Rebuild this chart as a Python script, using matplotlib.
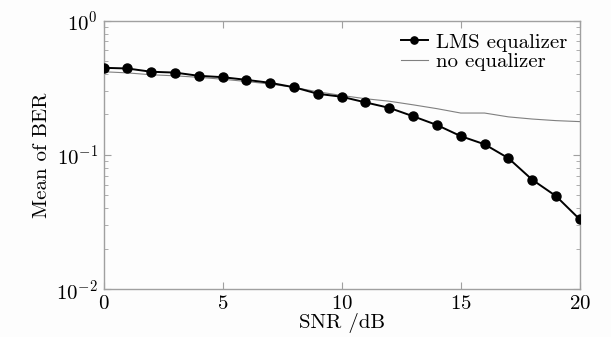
import matplotlib
matplotlib.use("Agg")
import matplotlib.pyplot as plt
from matplotlib.ticker import LogLocator, NullFormatter

plt.rcParams['font.family'] = 'serif'
plt.rcParams['font.serif'] = ['cmr10']
plt.rcParams['mathtext.fontset'] = 'cm'
plt.rcParams['axes.unicode_minus'] = False
plt.rcParams['axes.formatter.use_mathtext'] = True

snr = list(range(0, 21))
ber_lms = [0.445, 0.44, 0.416, 0.41, 0.388, 0.379, 0.362, 0.344, 0.319, 0.285,
           0.271, 0.246, 0.224, 0.194, 0.167, 0.138, 0.120, 0.0946, 0.0654, 0.0494, 0.0331]
ber_none = [0.416, 0.408, 0.395, 0.388, 0.378, 0.366, 0.352, 0.337, 0.318, 0.295,
            0.277, 0.262, 0.251, 0.236, 0.221, 0.205, 0.205, 0.192, 0.185, 0.180, 0.177]

fig = plt.figure(figsize=(6.11, 3.37), dpi=100, facecolor='#fdfdfd')
ax = fig.add_axes([0.1694, 0.1415, 0.7796, 0.7975])
ax.set_facecolor('#fdfdfd')

ax.plot(snr, ber_lms, color='black', lw=1.4, marker='o', ms=6.5, label='LMS equalizer', zorder=3)
ax.plot(snr, ber_none, color='#808080', lw=0.8, label='no equalizer', zorder=2)

ax.set_yscale('log')
ax.set_ylim(1e-2, 1e0)
ax.set_xlim(0, 20)
ax.set_xticks([0, 5, 10, 15, 20])
ax.yaxis.set_major_locator(LogLocator(base=10, numticks=5))
ax.yaxis.set_minor_locator(LogLocator(base=10, subs=range(2, 10), numticks=20))
ax.yaxis.set_minor_formatter(NullFormatter())

for s in ax.spines.values():
    s.set_color('#a0a0a0')
    s.set_linewidth(1.0)
ax.tick_params(which='both', direction='in', top=True, right=True, color='#a0a0a0',
               labelsize=15, pad=4)
ax.tick_params(which='major', length=5)
ax.tick_params(which='minor', length=3)

ax.set_xlabel('SNR /dB', fontsize=15, labelpad=0)
ax.set_ylabel('Mean of BER', fontsize=15, labelpad=4)

ax.legend(loc='upper right', frameon=False, fontsize=15, handlelength=1.3,
          handletextpad=0.4, labelspacing=0.05, borderaxespad=0.2, markerscale=0.8)

fig.savefig('out.png', dpi=100, facecolor=fig.get_facecolor())
